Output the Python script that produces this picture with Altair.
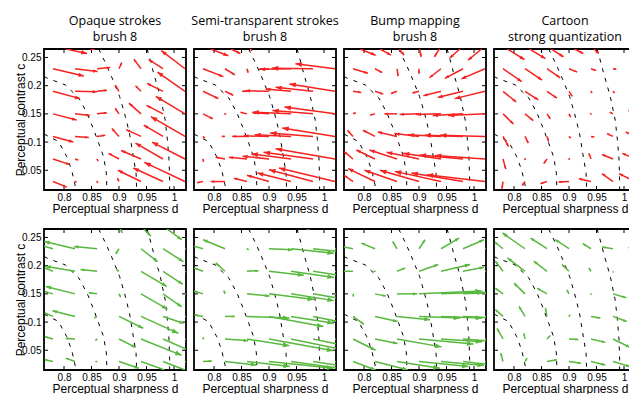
import math
import pandas as pd
import altair as alt

# ---------------- data ----------------
D_GRID = [0.78, 0.82, 0.86, 0.90, 0.94, 0.98, 1.02]          # columns (perceptual sharpness d)
C_GRID = [0.27, 0.23, 0.19, 0.15, 0.11, 0.07, 0.03]          # rows, top to bottom (perceptual contrast c)

X_DOMAIN = [0.7636, 1.0218]
Y_DOMAIN = [0.015, 0.265]
X_TICKS = [0.8, 0.85, 0.9, 0.95, 1.0]
Y_TICKS = [0.05, 0.1, 0.15, 0.2, 0.25]

TITLES = [
    ["Opaque strokes", "brush 8"],
    ["Semi-transparent strokes", "brush 8"],
    ["Bump mapping", "brush 8"],
    ["Cartoon", "strong quantization"],
]

# dashed iso-lines (same in every panel)
CA_D = [0.764, 0.790, 0.805, 0.814, 0.820, 0.822]
CA_C = [0.114, 0.101, 0.074, 0.050, 0.024, 0.015]
CB_D = [0.764, 0.770, 0.802, 0.827, 0.842, 0.854, 0.863, 0.872, 0.877, 0.878]
CB_C = [0.216, 0.213, 0.2015, 0.178, 0.151, 0.122, 0.098, 0.074, 0.045, 0.015]
CC_D = [0.863, 0.877, 0.889, 0.901, 0.910, 0.919, 0.925, 0.931, 0.932]
CC_C = [0.265, 0.237, 0.210, 0.181, 0.151, 0.116, 0.080, 0.045, 0.015]
CD_D = [0.951, 0.954, 0.963, 0.975, 0.984, 0.988, 0.991, 0.992, 0.992]
CD_C = [0.265, 0.255, 0.222, 0.181, 0.139, 0.104, 0.068, 0.033, 0.015]

# vector components in thousandths (u along d, v along c); rows follow C_GRID, columns D_GRID
P1_U = [[62, 36, 9, 3, -6, -12, -24], [56, 41, 24, 5, -13, -26, -43], [49, 40, 18, -7, -10, -29, -50],
        [43, 27, 18, -7, -22, -30, -53], [37, 25, 15, -13, -27, -35, -62], [31, 6, 2, -19, -36, -50, -60],
        [25, 3, 2, -3, -42, -54, -74]]
P1_V = [[-13, -6, -1, 6, 6, 9, 18], [-13, -5, 2, 11, 17, 16, 32], [-13, -1, 2, 11, 10, 14, 34],
        [-11, -3, 2, 10, 19, 15, 31], [-10, -2, 2, 14, 12, 20, 35], [-10, -2, -4, 10, 15, 28, 30],
        [-10, -1, -2, 6, 20, 24, 34]]

P2_U = [[46, 28, 9, -48, -60, -66, -72], [37, 18, 2, -18, -57, -75, -72], [28, 15, -9, -43, -46, -68, -83],
        [18, 2, -12, -30, -70, -74, -92], [3, -6, -27, -46, -66, -78, -96], [1, -17, -33, -48, -72, -90, -108],
        [-11, -26, -24, -40, -61, -80, -102]]
P2_V = [[-17, -13, -8, 3, 6, 7, 9], [-14, -11, -7, -1, -1, 1, 9], [-13, -7, 0, 1, 4, 7, 13],
        [-9, -1, 3, 2, 3, 6, 12], [-3, 0, 0, 1, 3, 6, 15], [-5, 3, 3, 5, 9, 12, 18],
        [-2, 0, 6, 11, 15, 21, 24]]

P3_U = [[41, 29, 13, 4, -12, -24, -31], [27, 13, 2, 0, -21, -33, -43], [15, 15, -11, -12, -32, -46, -55],
        [5, -9, -23, -35, -45, -55, -67], [-10, -22, -35, -44, -60, -70, -82], [-16, -34, -50, -59, -69, -79, -91],
        [-16, -49, -59, -71, -84, -94, -106]]
P3_V = [[-16, -16, -16, -19, -19, -21, -25], [-8, -7, -13, -9, -16, -17, -18], [-2, -5, -4, -3, -8, -11, -13],
        [2, -2, 0, -1, -1, -3, -3], [11, 11, 8, 5, 3, 2, 2], [13, 16, 16, 12, 10, 7, 6],
        [11, 23, 20, 20, 18, 15, 12]]

P4_U = [[39, 37, 30, 26, 14, 6, 3], [34, 31, 24, 15, 9, 6, 3], [24, 24, 18, 6, 2, 3, 0],
        [19, 15, 6, 3, 1, -6, -12], [10, 6, 3, 3, 6, -11, -17], [5, 0, -6, 2, -4, -20, -23],
        [-2, -5, -12, -19, -22, -20, -29]]
P4_V = [[-24, -22, -19, -13, -13, -3, -3], [-23, -20, -16, -6, -3, -1, 0], [-19, -15, -12, -9, -3, -3, 0],
        [-18, -12, -9, -6, -1, 3, 6], [-18, -12, -9, -3, -1, 5, 8], [-18, -2, -8, 0, 10, 8, 10],
        [-13, -7, -4, -1, 5, 14, 14]]

P5_U = [[-36, -54, -36, 6, 18, 34, 36], [-18, -56, -42, -6, 30, 37, 36], [-15, -54, -30, -5, 47, 36, 36],
        [-15, -53, -15, 3, 48, 34, 36], [-15, -41, -5, 44, 68, 37, 36], [-15, -17, -3, 30, 74, 42, 36],
        [-15, -17, -3, 36, 60, 48, 36]]
P5_V = [[12, 12, 6, -12, -18, -24, -24], [5, 13, 4, -9, -23, -23, -21], [6, 9, 3, 3, -27, -23, -23],
        [4, 13, 2, -6, -27, -23, -23], [6, 10, -3, -21, -30, -12, -18], [4, 1, -3, -15, -29, -18, -18],
        [3, 6, 0, -12, -21, -18, -15]]

P6_U = [[-24, -30, 3, 18, 36, 42, 36], [-18, -40, 3, 43, 78, 54, 42], [-16, -17, 21, 63, 78, 48, 36],
        [-16, -2, 41, 82, 78, 54, 36], [-16, 18, 77, 99, 78, 60, 36], [1, 42, 77, 117, 90, 60, 36],
        [16, 57, 78, 117, 90, 60, 36]]
P6_V = [[6, 9, -3, -2, -5, -5, -5], [5, 16, -2, -2, -8, -6, -5], [6, 15, 1, -7, -11, -7, -6],
        [5, 6, -4, -10, -12, -9, -6], [3, 0, -3, -18, -12, -12, -7], [3, -3, -12, -21, -18, -12, -7],
        [1, -6, -9, -12, -12, -9, -6]]

P7_U = [[-18, -24, -9, 9, 30, 36, 36], [-17, -25, -8, 11, 33, 38, 36], [-17, -3, 15, 35, 53, 38, 36],
        [1, 20, 37, 114, 78, 42, 36], [20, 41, 60, 75, 75, 42, 36], [41, 41, 81, 99, 75, 42, 36],
        [41, 60, 78, 90, 78, 42, 36]]
P7_V = [[6, 9, 15, 18, 18, 15, 12], [3, 10, 13, 16, 19, 16, 12], [0, 0, 6, 12, 12, 7, 6],
        [-5, -4, 0, 5, 3, 2, 2], [-14, -9, -6, -3, -3, -2, -1], [-20, -8, -14, -9, -5, -3, -2],
        [-15, -15, -12, -9, -7, -5, -3]]

P8_U = [[-18, -36, -30, -24, -15, -18, -12], [-15, -41, -30, -25, -15, -20, -12], [-14, -32, -24, -13, -4, 0, -3],
        [-14, -20, -18, -4, -1, 24, 24], [-14, -11, -3, 2, 17, 25, 27], [-11, -2, 6, 17, 26, 31, 30],
        [-4, 4, 18, 22, 26, 31, 30]]
P8_V = [[15, 27, 19, 16, 9, 3, 2], [12, 28, 19, 16, 9, 3, 2], [18, 24, 18, 12, 6, 1, 1],
        [10, 19, 10, 7, 1, -7, -7], [12, 18, 15, 3, -3, -9, -9], [19, 10, 6, -1, -6, -15, -12],
        [15, 6, 3, -3, -6, -9, -9]]

RED = "#f5221f"
GREEN = "#58b83d"

# ---------------- layout constants ----------------
W, H = 142, 141
PXX = W / (X_DOMAIN[1] - X_DOMAIN[0])
PXY = H / (Y_DOMAIN[1] - Y_DOMAIN[0])
HEAD_PATH = "M0,0L0.38,1L-0.38,1Z"
AXIS_FONT = "Liberation Sans"
TITLE_FONT = "Open Sans"

contours = []
for name, ds, cs in [("A", CA_D, CA_C), ("B", CB_D, CB_C), ("C", CC_D, CC_C), ("D", CD_D, CD_C)]:
    for i, (d, c) in enumerate(zip(ds, cs)):
        contours.append({"curve": name, "i": i, "d": d, "c": c})
contour_df = pd.DataFrame(contours)

# inward tick marks on all four sides (centred on the frame, outer half clipped)
vticks_df = pd.DataFrame({"tx": X_TICKS * 2, "ty": [Y_DOMAIN[0]] * len(X_TICKS) + [Y_DOMAIN[1]] * len(X_TICKS)})
hticks_df = pd.DataFrame({"ty": Y_TICKS * 2, "tx": [X_DOMAIN[0]] * len(Y_TICKS) + [X_DOMAIN[1]] * len(Y_TICKS)})


def clip_t(x0, y0, x1, y1):
    """Liang-Barsky: parameter range of the segment inside the plot box, or None."""
    dx, dy = x1 - x0, y1 - y0
    t0, t1 = 0.0, 1.0
    for p, q in ((-dx, x0 - X_DOMAIN[0]), (dx, X_DOMAIN[1] - x0),
                 (-dy, y0 - Y_DOMAIN[0]), (dy, Y_DOMAIN[1] - y0)):
        if p == 0:
            if q < 0:
                return None
            continue
        r = q / p
        if p < 0:
            t0 = max(t0, r)
        else:
            t1 = min(t1, r)
        if t0 > t1:
            return None
    return t0, t1


def arrow_dfs(U, V):
    shafts, heads = [], []
    for r, c in enumerate(C_GRID):
        for k, d in enumerate(D_GRID):
            u = U[r][k] / 1000.0
            v = V[r][k] / 1000.0
            res = clip_t(d, c, d + u, c + v)
            if res is None:
                continue
            t0, t1 = res
            shafts.append({"x": d + t0 * u, "y": c + t0 * v, "x2": d + t1 * u, "y2": c + t1 * v})
            if t1 >= 0.999:
                ex, ey = u * PXX, v * PXY
                L = math.hypot(ex, ey)
                h = min(6.5, max(2.0, 0.11 * L + 2.0))
                ang = (math.degrees(math.atan2(ex, ey)) + 360.0) % 360.0
                heads.append({"hx": d + u, "hy": c + v, "ang": ang, "s": 4 * h * h})
    return pd.DataFrame(shafts), pd.DataFrame(heads)


xs = alt.Scale(domain=X_DOMAIN, nice=False, zero=False)
ys = alt.Scale(domain=Y_DOMAIN, nice=False, zero=False)


def panel(U, V, color, col, row):
    sdf, hdf = arrow_dfs(U, V)
    x_ax = alt.Axis(orient="bottom", values=X_TICKS, format="~g", ticks=False, tickSize=0, domain=False,
                    grid=False, title="Perceptual sharpness d", labelPadding=2, titlePadding=1,
                    minExtent=0)
    if col == 0:
        y_ax = alt.Axis(orient="left", values=Y_TICKS, format="~g", ticks=False, tickSize=0, domain=False,
                        grid=False, title="Perceptual contrast c", labelPadding=3, titlePadding=-6,
                        minExtent=0)
    else:
        y_ax = alt.Axis(orient="left", values=Y_TICKS, labels=False, ticks=False, tickSize=0, domain=False,
                        grid=False, title="", minExtent=0, maxExtent=0)

    lines = alt.Chart(contour_df).mark_line(clip=True, color="black", strokeWidth=1, strokeDash=[4, 6]).encode(
        x=alt.X("d:Q", scale=xs, axis=x_ax),
        y=alt.Y("c:Q", scale=ys, axis=y_ax),
        detail="curve:N",
        order="i:Q",
    )
    vt = alt.Chart(vticks_df).mark_tick(clip=True, orient="vertical", size=8, thickness=1, color="black",
                                        opacity=1).encode(
        x=alt.X("tx:Q", scale=xs, axis=x_ax),
        y=alt.Y("ty:Q", scale=ys, axis=y_ax),
    )
    ht = alt.Chart(hticks_df).mark_tick(clip=True, orient="horizontal", size=8, thickness=1, color="black",
                                        opacity=1).encode(
        x=alt.X("tx:Q", scale=xs, axis=x_ax),
        y=alt.Y("ty:Q", scale=ys, axis=y_ax),
    )
    shafts = alt.Chart(sdf).mark_rule(clip=True, color=color, strokeWidth=1.5).encode(
        x=alt.X("x:Q", scale=xs, axis=x_ax),
        y=alt.Y("y:Q", scale=ys, axis=y_ax),
        x2="x2:Q",
        y2="y2:Q",
    )
    heads = alt.Chart(hdf).mark_point(clip=True, shape=HEAD_PATH, filled=True, color=color, opacity=1).encode(
        x=alt.X("hx:Q", scale=xs, axis=x_ax),
        y=alt.Y("hy:Q", scale=ys, axis=y_ax),
        angle=alt.Angle("ang:Q", scale=None),
        size=alt.Size("s:Q", scale=None),
    )
    ch = alt.layer(lines, vt, ht, shafts, heads)
    props = dict(width=W, height=H)
    if row == 0:
        props["title"] = alt.TitleParams(text=TITLES[col], font=TITLE_FONT, fontSize=12.5,
                                         fontWeight="normal", color="black", anchor="middle",
                                         offset=5.5, lineHeight=16)
    return ch.properties(**props)


red_fields = [(P1_U, P1_V), (P2_U, P2_V), (P3_U, P3_V), (P4_U, P4_V)]
green_fields = [(P5_U, P5_V), (P6_U, P6_V), (P7_U, P7_V), (P8_U, P8_V)]

rows = []
for r, (fields, color) in enumerate([(red_fields, RED), (green_fields, GREEN)]):
    ps = [panel(U, V, color, k, r) for k, (U, V) in enumerate(fields)]
    rows.append(alt.hconcat(*ps, spacing=8, bounds="flush"))

chart = alt.vconcat(rows[0], rows[1], spacing=13).configure_view(
    stroke="black", strokeWidth=1.8
).configure_axis(
    labelFont=AXIS_FONT, labelFontSize=10, labelColor="black",
    titleFont=AXIS_FONT, titleFontSize=12, titleColor="black", titleFontWeight="normal",
).properties(padding={"left": 5, "top": 6, "right": -8, "bottom": 0})

chart.save("out.html", embed_options={"renderer": "svg", "actions": False})
